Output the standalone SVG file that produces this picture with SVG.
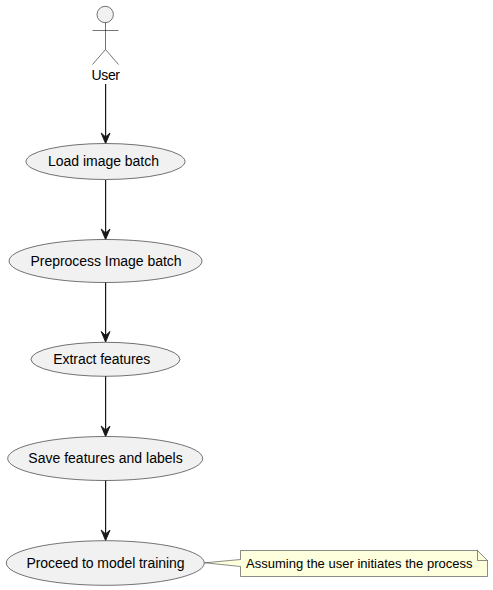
<svg xmlns="http://www.w3.org/2000/svg" width="493" height="590" viewBox="0 0 493 590">
<style>
.n{fill:#F1F1F1;stroke:#181818;stroke-width:.6}
.t{font-family:"Liberation Sans",Arial,sans-serif;font-size:14px;fill:#000}
.c{fill:none;stroke:#181818;stroke-width:1.2}
.a{fill:#181818;stroke:#181818;stroke-width:1}
</style>
<rect width="493" height="590" fill="#fff"/>
<g id="connectors">
<path class="c" d="M105.600,84V137"/><path class="a" d="M105.600,143.500L110,133L105.600,137L101.200,133Z"/>
<path class="c" d="M105.600,180V235"/><path class="a" d="M105.600,239.500L110,229L105.600,233L101.200,229Z"/>
<path class="c" d="M105.600,282V337"/><path class="a" d="M105.600,342L110,331.500L105.600,335.500L101.200,331.500Z"/>
<path class="c" d="M105.600,376V432"/><path class="a" d="M105.600,436.500L110,426L105.600,430L101.200,426Z"/>
<path class="c" d="M105.600,480V535"/><path class="a" d="M105.600,540.500L110,530L105.600,534L101.200,530Z"/>
</g>
<g id="user">
<circle class="n" cx="105.200" cy="14.500" r="8.200"/>
<path d="M105.500,22.500V49.500M92.500,30.500H118.500M105.500,49.500L92.500,64.500M105.500,49.500L118.500,64.500" fill="none" stroke="#181818" stroke-width=".6"/>
<text class="t" x="91.500" y="80" textLength="28.500">User</text>
</g>
<g id="load"><ellipse class="n" cx="105.500" cy="161.500" rx="79.500" ry="18"/><text class="t" x="48" y="166" textLength="111">Load image batch</text></g>
<g id="preprocess"><ellipse class="n" cx="105.500" cy="261" rx="96.500" ry="21.500"/><text class="t" x="30.500" y="265.500" textLength="151">Preprocess Image batch</text></g>
<g id="extract"><ellipse class="n" cx="105.500" cy="359.300" rx="74.500" ry="17"/><text class="t" x="53.300" y="364" textLength="97">Extract features</text></g>
<g id="save"><ellipse class="n" cx="105.200" cy="458.500" rx="97.500" ry="22"/><text class="t" x="28.300" y="463" textLength="154.400">Save features and labels</text></g>
<g id="proceed"><ellipse class="n" cx="105.300" cy="563" rx="99" ry="22.300"/><text class="t" x="26.500" y="567.500" textLength="158">Proceed to model training</text></g>
<g id="note">
<path d="M240.500,550.500H477.500L487.500,560.500V576.500H240.500V566.500L204.800,562.800L240.500,559.500Z" fill="#FEFFDD" stroke="#181818" stroke-width=".5"/>
<path d="M477.500,550.500V560.500H487.500" fill="none" stroke="#181818" stroke-width=".5"/>
<text x="246" y="568" font-family="'Liberation Sans',Arial,sans-serif" font-size="13px" fill="#000" textLength="226.500">Assuming the user initiates the process</text>
</g>
</svg>
